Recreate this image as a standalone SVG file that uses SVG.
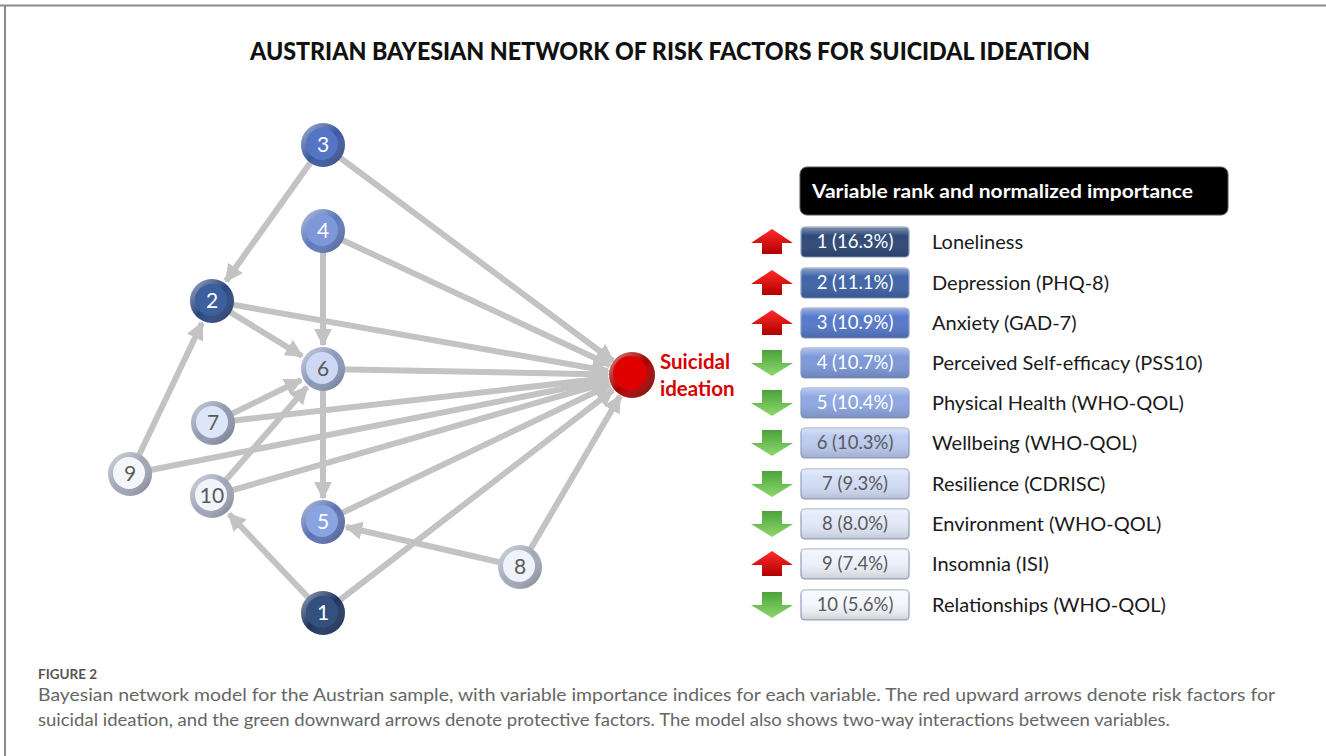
<svg xmlns="http://www.w3.org/2000/svg" width="1326" height="756" viewBox="0 0 1326 756">
  <style>
    .edge { stroke: #c3c3c3; stroke-width: 6; fill: none; marker-end: url(#head); }
    .num { font-family: Lato, "Liberation Sans", sans-serif; font-size: 21px; text-anchor: middle; }
    .light { fill: #ffffff; }
    .dark { fill: #5a5a5a; }
    .rank { font-family: Lato, "Liberation Sans", sans-serif; font-size: 18.5px; text-anchor: middle; }
    .label { font-family: Lato, "Liberation Sans", sans-serif; font-size: 20px; fill: #1a1a1a; }
    .box { stroke: #8f9fc0; stroke-width: 1.2; }
  </style>
  <defs>
    <marker id="head" viewBox="0 0 10 10" refX="9" refY="5" markerWidth="3" markerHeight="3" orient="auto" markerUnits="strokeWidth">
      <path d="M0,0 L10,5 L0,10 Z" fill="#c3c3c3"/>
    </marker>
    <linearGradient id="ringShade" x1="0" y1="0" x2="1" y2="1">
      <stop offset="0" stop-color="#ffffff" stop-opacity="0.55"/>
      <stop offset="0.5" stop-color="#ffffff" stop-opacity="0"/>
      <stop offset="1" stop-color="#000000" stop-opacity="0.35"/>
    </linearGradient>
    <linearGradient id="redUp" x1="0" y1="0" x2="0" y2="1">
      <stop offset="0" stop-color="#ff2a2a"/>
      <stop offset="1" stop-color="#b00000"/>
    </linearGradient>
    <linearGradient id="greenDown" x1="0" y1="0" x2="0" y2="1">
      <stop offset="0" stop-color="#4aa33a"/>
      <stop offset="1" stop-color="#8fd86e"/>
    </linearGradient>
    <linearGradient id="boxShade" x1="0" y1="0" x2="0" y2="1">
      <stop offset="0" stop-color="#ffffff" stop-opacity="0.4"/>
      <stop offset="0.3" stop-color="#ffffff" stop-opacity="0"/>
      <stop offset="1" stop-color="#000000" stop-opacity="0.15"/>
    </linearGradient>
    <path id="upArrow" d="M0,-13 L21,1 L10,1 L10,12 L-10,12 L-10,1 L-21,1 Z"/>
    <path id="downArrow" d="M-10,-13 L10,-13 L10,0 L21,0 L0,13 L-21,0 L-10,0 Z"/>
  </defs>

  <rect width="1326" height="756" fill="#ffffff"/>
  <!-- page frame -->
  <line x1="0" y1="5.5" x2="1326" y2="5.5" stroke="#8a8a8a" stroke-width="2"/>
  <line x1="5" y1="5" x2="5" y2="756" stroke="#8a8a8a" stroke-width="2"/>

  <text x="670" y="60" text-anchor="middle" font-family="Lato, 'Liberation Sans', sans-serif" font-weight="900" font-size="24" fill="#111111" textLength="840" lengthAdjust="spacingAndGlyphs">AUSTRIAN BAYESIAN NETWORK OF RISK FACTORS FOR SUICIDAL IDEATION</text>

  <g id="connectors">
    <!-- links between variables -->
    <line class="edge" x1="323" y1="145" x2="226" y2="281"/>
    <line class="edge" x1="323" y1="231" x2="323" y2="345"/>
    <line class="edge" x1="212" y1="301" x2="302" y2="356"/>
    <line class="edge" x1="323" y1="369" x2="323" y2="498"/>
    <line class="edge" x1="213" y1="423" x2="301" y2="380"/>
    <line class="edge" x1="130" y1="474" x2="202" y2="323"/>
    <line class="edge" x1="212" y1="496" x2="307" y2="387"/>
    <line class="edge" x1="323" y1="613" x2="229" y2="514"/>
    <line class="edge" x1="520" y1="567" x2="346" y2="527"/>
    <!-- links into suicidal ideation -->
    <line class="edge" x1="323" y1="145" x2="613" y2="361"/>
    <line class="edge" x1="323" y1="231" x2="610" y2="365"/>
    <line class="edge" x1="212" y1="301" x2="608" y2="371"/>
    <line class="edge" x1="323" y1="369" x2="608" y2="374.5"/>
    <line class="edge" x1="213" y1="423" x2="608" y2="378"/>
    <line class="edge" x1="130" y1="474" x2="608" y2="380"/>
    <line class="edge" x1="212" y1="496" x2="609" y2="382"/>
    <line class="edge" x1="323" y1="522" x2="610" y2="385"/>
    <line class="edge" x1="323" y1="613" x2="613" y2="390"/>
    <line class="edge" x1="520" y1="567" x2="620" y2="396"/>
  </g>

  <g id="node-3">
    <circle cx="323" cy="145" r="22" fill="#3b58a0"/>
    <circle cx="323" cy="145" r="22" fill="url(#ringShade)"/>
    <circle cx="322" cy="144" r="16" fill="#5574c4"/>
    <text class="num light" x="323" y="152">3</text>
  </g>
  <g id="node-4">
    <circle cx="323" cy="231" r="22" fill="#5e78bb"/>
    <circle cx="323" cy="231" r="22" fill="url(#ringShade)"/>
    <circle cx="322" cy="230" r="16" fill="#7d98d8"/>
    <text class="num light" x="323" y="238">4</text>
  </g>
  <g id="node-2">
    <circle cx="212" cy="301" r="22" fill="#2b4780"/>
    <circle cx="212" cy="301" r="22" fill="url(#ringShade)"/>
    <circle cx="211" cy="300" r="16" fill="#3d5f9e"/>
    <text class="num light" x="212" y="308">2</text>
  </g>
  <g id="node-6">
    <circle cx="323" cy="369" r="22" fill="#8a97b8"/>
    <circle cx="323" cy="369" r="22" fill="url(#ringShade)"/>
    <circle cx="322" cy="368" r="16" fill="#cdd9f4"/>
    <text class="num dark" x="323" y="376">6</text>
  </g>
  <g id="node-7">
    <circle cx="213" cy="423" r="22" fill="#8f98b0"/>
    <circle cx="213" cy="423" r="22" fill="url(#ringShade)"/>
    <circle cx="212" cy="422" r="16" fill="#dde6f8"/>
    <text class="num dark" x="213" y="430">7</text>
  </g>
  <g id="node-9">
    <circle cx="130" cy="474" r="22" fill="#a0a6b6"/>
    <circle cx="130" cy="474" r="22" fill="url(#ringShade)"/>
    <circle cx="129" cy="473" r="16" fill="#f4f6fb"/>
    <text class="num dark" x="130" y="481">9</text>
  </g>
  <g id="node-10">
    <circle cx="212" cy="496" r="22" fill="#9ea5b6"/>
    <circle cx="212" cy="496" r="22" fill="url(#ringShade)"/>
    <circle cx="211" cy="495" r="16" fill="#f1f4fb"/>
    <text class="num dark" x="212" y="503">10</text>
  </g>
  <g id="node-5">
    <circle cx="323" cy="522" r="22" fill="#5d72b2"/>
    <circle cx="323" cy="522" r="22" fill="url(#ringShade)"/>
    <circle cx="322" cy="521" r="16" fill="#8aa4e2"/>
    <text class="num light" x="323" y="529">5</text>
  </g>
  <g id="node-8">
    <circle cx="520" cy="567" r="22" fill="#a2a8b8"/>
    <circle cx="520" cy="567" r="22" fill="url(#ringShade)"/>
    <circle cx="519" cy="566" r="16" fill="#eef2fa"/>
    <text class="num dark" x="520" y="574">8</text>
  </g>
  <g id="node-1">
    <circle cx="323" cy="613" r="22" fill="#1f3560"/>
    <circle cx="323" cy="613" r="22" fill="url(#ringShade)"/>
    <circle cx="322" cy="612" r="16" fill="#34507f"/>
    <text class="num light" x="323" y="620">1</text>
  </g>

  <g id="node-suicidal-ideation">
    <circle cx="632" cy="375" r="23" fill="#a80000"/>
    <circle cx="632" cy="375" r="23" fill="url(#ringShade)"/>
    <circle cx="630" cy="373" r="17" fill="#e00000"/>
    <text x="660" y="369" font-family="Lato, 'Liberation Sans', sans-serif" font-weight="bold" font-size="20.5" fill="#d80000">Suicidal</text>
    <text x="660" y="396" font-family="Lato, 'Liberation Sans', sans-serif" font-weight="bold" font-size="20.5" fill="#d80000">ideation</text>
  </g>

  <g id="legend">
    <rect x="800" y="167" width="428" height="48" rx="7" fill="#000000" stroke="#555555" stroke-width="1"/>
    <text x="812" y="198" font-family="Lato, 'Liberation Sans', sans-serif" font-weight="bold" font-size="19.5" fill="#ffffff" textLength="381" lengthAdjust="spacingAndGlyphs">Variable rank and normalized importance</text>

    <g id="rank-1" transform="translate(0,242)">
      <use href="#upArrow" x="772" fill="url(#redUp)"/>
      <rect class="box" x="801" y="-15" width="108" height="30" rx="4" fill="#2f4a78"/>
      <rect x="801" y="-15" width="108" height="30" rx="4" fill="url(#boxShade)"/>
      <text class="rank light" x="855" y="6">1 (16.3%)</text>
      <text class="label" x="932" y="7">Loneliness</text>
    </g>
    <g id="rank-2" transform="translate(0,283)">
      <use href="#upArrow" x="772" fill="url(#redUp)"/>
      <rect class="box" x="801" y="-15" width="108" height="30" rx="4" fill="#3f64a8"/>
      <rect x="801" y="-15" width="108" height="30" rx="4" fill="url(#boxShade)"/>
      <text class="rank light" x="855" y="6">2 (11.1%)</text>
      <text class="label" x="932" y="7">Depression (PHQ-8)</text>
    </g>
    <g id="rank-3" transform="translate(0,323)">
      <use href="#upArrow" x="772" fill="url(#redUp)"/>
      <rect class="box" x="801" y="-15" width="108" height="30" rx="4" fill="#5679cb"/>
      <rect x="801" y="-15" width="108" height="30" rx="4" fill="url(#boxShade)"/>
      <text class="rank light" x="855" y="6">3 (10.9%)</text>
      <text class="label" x="932" y="7">Anxiety (GAD-7)</text>
    </g>
    <g id="rank-4" transform="translate(0,363)">
      <use href="#downArrow" x="772" fill="url(#greenDown)"/>
      <rect class="box" x="801" y="-15" width="108" height="30" rx="4" fill="#7e99d9"/>
      <rect x="801" y="-15" width="108" height="30" rx="4" fill="url(#boxShade)"/>
      <text class="rank light" x="855" y="6">4 (10.7%)</text>
      <text class="label" x="932" y="7">Perceived Self-efficacy (PSS10)</text>
    </g>
    <g id="rank-5" transform="translate(0,403)">
      <use href="#downArrow" x="772" fill="url(#greenDown)"/>
      <rect class="box" x="801" y="-15" width="108" height="30" rx="4" fill="#8fa8e3"/>
      <rect x="801" y="-15" width="108" height="30" rx="4" fill="url(#boxShade)"/>
      <text class="rank light" x="855" y="6">5 (10.4%)</text>
      <text class="label" x="932" y="7">Physical Health (WHO-QOL)</text>
    </g>
    <g id="rank-6" transform="translate(0,443)">
      <use href="#downArrow" x="772" fill="url(#greenDown)"/>
      <rect class="box" x="801" y="-15" width="108" height="30" rx="4" fill="#bccbf0"/>
      <rect x="801" y="-15" width="108" height="30" rx="4" fill="url(#boxShade)"/>
      <text class="rank dark" x="855" y="6">6 (10.3%)</text>
      <text class="label" x="932" y="7">Wellbeing (WHO-QOL)</text>
    </g>
    <g id="rank-7" transform="translate(0,484)">
      <use href="#downArrow" x="772" fill="url(#greenDown)"/>
      <rect class="box" x="801" y="-15" width="108" height="30" rx="4" fill="#d3def7"/>
      <rect x="801" y="-15" width="108" height="30" rx="4" fill="url(#boxShade)"/>
      <text class="rank dark" x="855" y="6">7 (9.3%)</text>
      <text class="label" x="932" y="7">Resilience (CDRISC)</text>
    </g>
    <g id="rank-8" transform="translate(0,524)">
      <use href="#downArrow" x="772" fill="url(#greenDown)"/>
      <rect class="box" x="801" y="-15" width="108" height="30" rx="4" fill="#e2e9f9"/>
      <rect x="801" y="-15" width="108" height="30" rx="4" fill="url(#boxShade)"/>
      <text class="rank dark" x="855" y="6">8 (8.0%)</text>
      <text class="label" x="932" y="7">Environment (WHO-QOL)</text>
    </g>
    <g id="rank-9" transform="translate(0,564)">
      <use href="#upArrow" x="772" fill="url(#redUp)"/>
      <rect class="box" x="801" y="-15" width="108" height="30" rx="4" fill="#eef2fb"/>
      <rect x="801" y="-15" width="108" height="30" rx="4" fill="url(#boxShade)"/>
      <text class="rank dark" x="855" y="6">9 (7.4%)</text>
      <text class="label" x="932" y="7">Insomnia (ISI)</text>
    </g>
    <g id="rank-10" transform="translate(0,605)">
      <use href="#downArrow" x="772" fill="url(#greenDown)"/>
      <rect class="box" x="801" y="-15" width="108" height="30" rx="4" fill="#f4f7fd"/>
      <rect x="801" y="-15" width="108" height="30" rx="4" fill="url(#boxShade)"/>
      <text class="rank dark" x="855" y="6">10 (5.6%)</text>
      <text class="label" x="932" y="7">Relationships (WHO-QOL)</text>
    </g>
  </g>

  <g id="caption" font-family="Lato, 'Liberation Sans', sans-serif" fill="#666666">
    <text x="38" y="679" font-size="13.5" fill="#555555" font-weight="bold">FIGURE 2</text>
    <text x="38" y="701" font-size="17" textLength="1237" lengthAdjust="spacingAndGlyphs">Bayesian network model for the Austrian sample, with variable importance indices for each variable. The red upward arrows denote risk factors for</text>
    <text x="38" y="726" font-size="17" textLength="1132" lengthAdjust="spacingAndGlyphs">suicidal ideation, and the green downward arrows denote protective factors. The model also shows two-way interactions between variables.</text>
  </g>
</svg>
